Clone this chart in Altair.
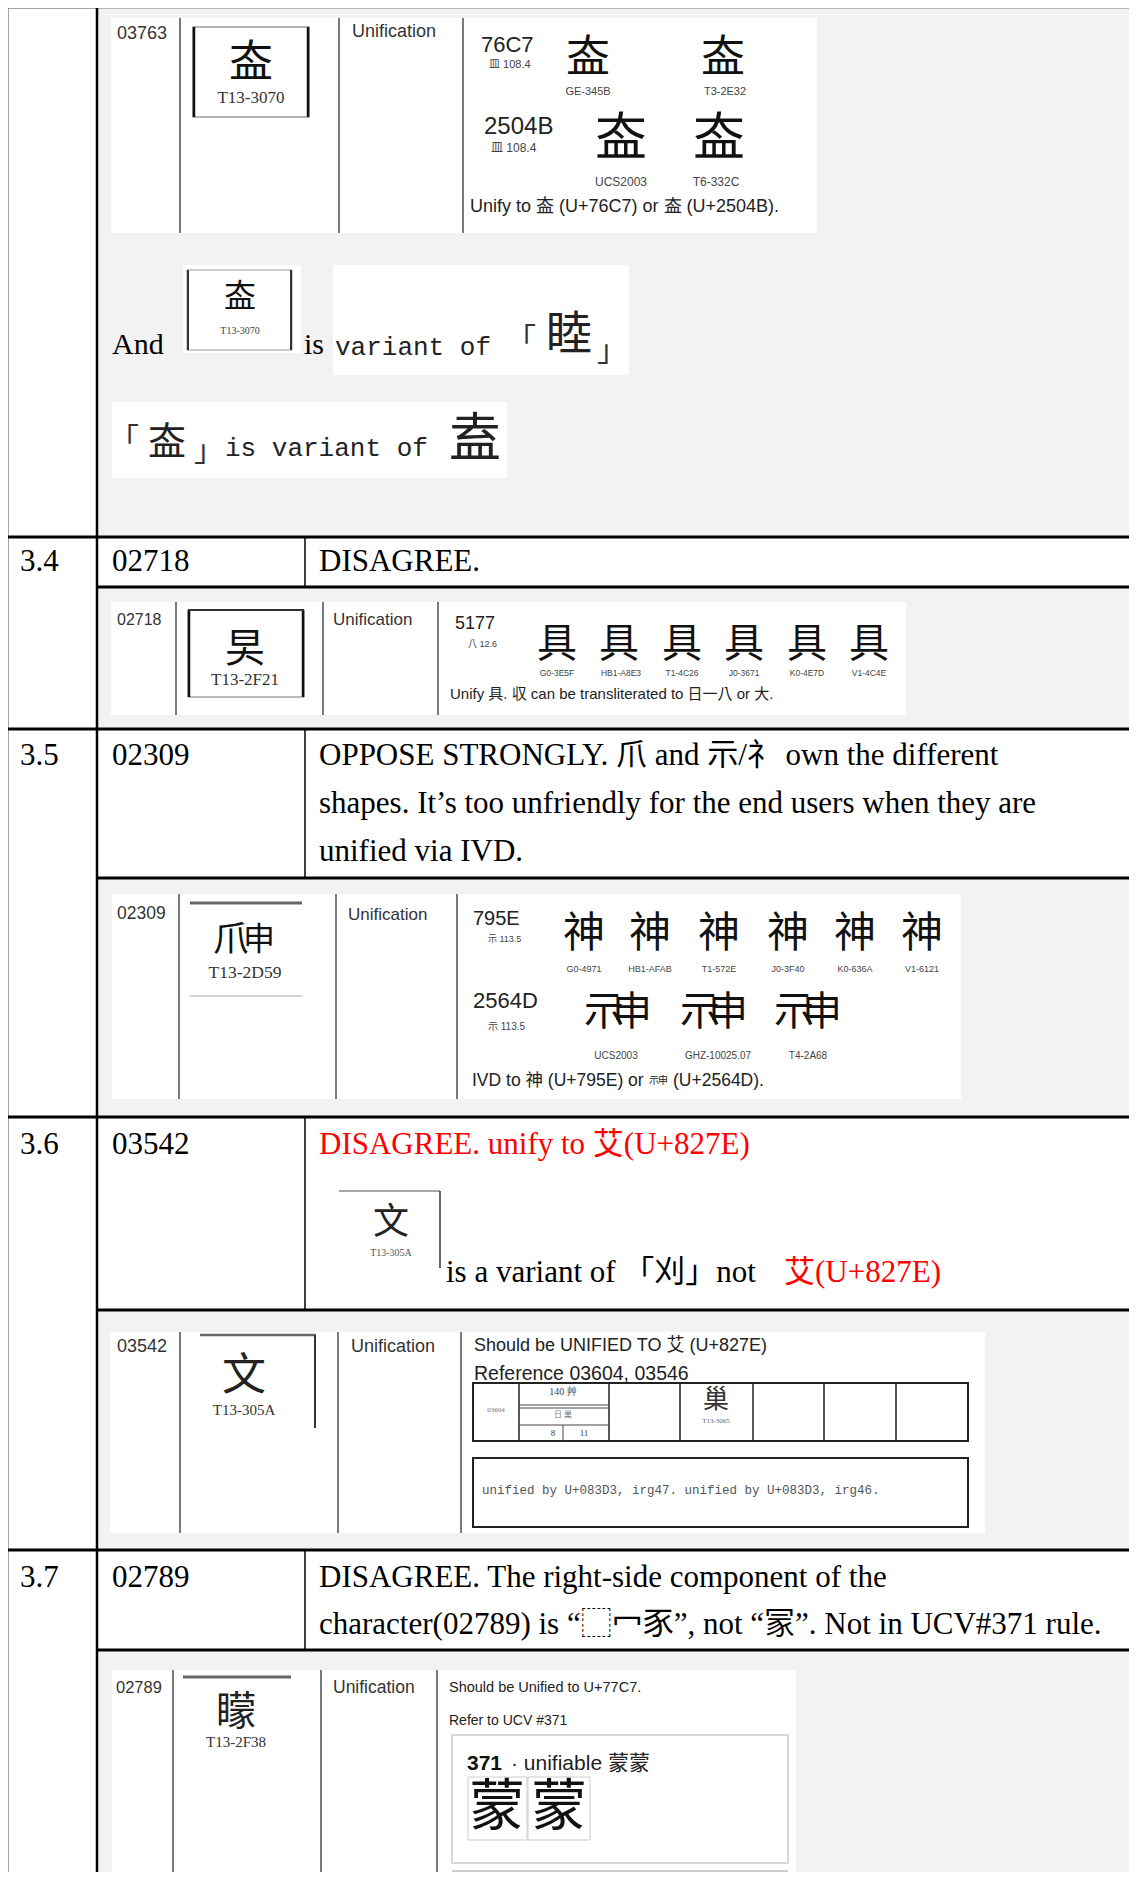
import altair as alt
import pandas as pd

# ---------------- page frame (reference pixel coordinates) ----------------
X0, X1 = 8, 1129
Y0, Y1 = 8, 1872
W, H = X1 - X0, Y1 - Y0

GREY = "#f2f2f2"
RED = "#ff0000"

# filled backgrounds: x1, y1, x2, y2, fill
BACKGROUNDS = [
    (97, 7, 1137, 1883, GREY),
    (97, 537, 1137, 587, "#ffffff"),
    (97, 729, 1137, 878, "#ffffff"),
    (97, 1117, 1137, 1310, "#ffffff"),
    (97, 1550, 1137, 1650, "#ffffff"),
    # pasted white picture boxes
    (111, 18, 817, 233, "#ffffff"),
    (183, 265, 301, 353, "#ffffff"),
    (333, 265, 629, 375, "#ffffff"),
    (112, 402, 507, 478, "#ffffff"),
    (111, 602, 906, 715, "#ffffff"),
    (112, 894, 961, 1099, "#ffffff"),
    (110, 1332, 985, 1533, "#ffffff"),
    (112, 1670, 796, 1872, "#ffffff"),
]

# outlined boxes: x1, y1, x2, y2, stroke, stroke width
OUTLINES = [
    (193, 27, 309, 117, "#666666", 1.2),
    (187, 270, 292, 350, "#999999", 1.0),
    (188, 610, 304, 697, "#777777", 1.0),
    (473, 1383, 968, 1441, "#222222", 2.0),
    (473, 1458, 968, 1527, "#222222", 2.0),
    (452, 1735, 788, 1863, "#cccccc", 1.5),
    (468, 1777, 527, 1840, "#cccccc", 1.0),
    (528, 1777, 590, 1840, "#cccccc", 1.0),
]

# lines: x1, y1, x2, y2, stroke width, colour
LINES = [
    # table frame
    (7, 7, 1137, 7, 2.5, "#000000"),
    (7, 7, 7, 1883, 2.5, "#000000"),
    (97, 7, 97, 1883, 2.5, "#000000"),
    (7, 537, 1137, 537, 2.8, "#000000"),
    (97, 587, 1137, 587, 2.8, "#000000"),
    (7, 729, 1137, 729, 2.8, "#000000"),
    (97, 878, 1137, 878, 2.8, "#000000"),
    (7, 1117, 1137, 1117, 2.8, "#000000"),
    (97, 1310, 1137, 1310, 2.8, "#000000"),
    (7, 1550, 1137, 1550, 2.8, "#000000"),
    (97, 1650, 1137, 1650, 2.8, "#000000"),
    (305, 537, 305, 587, 1.5, "#000000"),
    (305, 729, 305, 878, 1.5, "#000000"),
    (305, 1117, 305, 1310, 1.5, "#000000"),
    (305, 1550, 305, 1650, 1.5, "#000000"),
    # column separators inside the pasted pictures
    (180, 18, 180, 233, 1.3, "#333333"),
    (339, 18, 339, 233, 1.3, "#333333"),
    (463, 18, 463, 233, 1.3, "#333333"),
    (176, 602, 176, 715, 1.3, "#333333"),
    (323, 602, 323, 715, 1.3, "#333333"),
    (438, 602, 438, 715, 1.3, "#333333"),
    (179, 894, 179, 1099, 1.3, "#333333"),
    (336, 894, 336, 1099, 1.3, "#333333"),
    (457, 894, 457, 1099, 1.3, "#333333"),
    (180, 1332, 180, 1533, 1.3, "#333333"),
    (338, 1332, 338, 1533, 1.3, "#333333"),
    (461, 1332, 461, 1533, 1.3, "#333333"),
    (173, 1670, 173, 1872, 1.3, "#333333"),
    (321, 1670, 321, 1872, 1.3, "#333333"),
    (437, 1670, 437, 1872, 1.3, "#333333"),
    # glyph frames
    (194, 27, 194, 117, 2.5, "#111111"),
    (308, 27, 308, 117, 2.5, "#111111"),
    (188, 270, 188, 350, 2.0, "#333333"),
    (291, 270, 291, 350, 2.0, "#333333"),
    (189, 610, 189, 697, 2.5, "#111111"),
    (303, 610, 303, 697, 2.5, "#111111"),
    (188, 610, 304, 610, 2.0, "#333333"),
    (190, 903, 302, 903, 3.0, "#666666"),
    (190, 996, 302, 996, 1.0, "#aaaaaa"),
    (339, 1191, 440, 1191, 1.5, "#888888"),
    (440, 1191, 440, 1268, 1.5, "#333333"),
    (200, 1335, 316, 1335, 2.5, "#666666"),
    (315, 1335, 315, 1428, 2.0, "#333333"),
    (183, 1677, 291, 1677, 3.0, "#666666"),
    # small reference table (03604)
    (519, 1383, 519, 1441, 1.5, "#222222"),
    (609, 1383, 609, 1441, 1.5, "#222222"),
    (680, 1383, 680, 1441, 1.5, "#222222"),
    (753, 1383, 753, 1441, 1.5, "#222222"),
    (824, 1383, 824, 1441, 1.5, "#222222"),
    (896, 1383, 896, 1441, 1.5, "#222222"),
    (519, 1405, 609, 1405, 1.0, "#444444"),
    (519, 1408, 609, 1408, 1.0, "#444444"),
    (519, 1425, 609, 1425, 1.0, "#444444"),
    (563, 1425, 563, 1441, 1.0, "#444444"),
    (452, 1871, 788, 1871, 2.0, "#cccccc"),
]

# ---------------- texts: x, y, text, font size, colour ----------------
BODY = [
    (20, 562, "3.4", 31, "#000000"),
    (112, 562, "02718", 31, "#000000"),
    (319, 562, "DISAGREE.", 31, "#000000"),
    (20, 756, "3.5", 31, "#000000"),
    (112, 756, "02309", 31, "#000000"),
    (319, 756, "OPPOSE STRONGLY.  爪  and  示/礻  own the different", 31, "#000000"),
    (319, 804, "shapes. It’s too unfriendly for the end users when they are", 31, "#000000"),
    (319, 852, "unified via IVD.", 31, "#000000"),
    (20, 1145, "3.6", 31, "#000000"),
    (112, 1145, "03542", 31, "#000000"),
    (319, 1145, "DISAGREE. unify to  艾(U+827E)", 31, RED),
    (446, 1273, "is a variant of 「刈」not", 31, "#000000"),
    (784, 1273, "艾(U+827E)", 31, RED),
    (20, 1578, "3.7", 31, "#000000"),
    (112, 1578, "02789", 31, "#000000"),
    (319, 1578, "DISAGREE. The right-side component of the", 31, "#000000"),
    (319, 1625, "character(02789) is “⬚冖豕”, not “冡”. Not in UCV#371 rule.", 31, "#000000"),
    (112, 345, "And", 30, "#000000"),
    (304, 345, "is", 30, "#000000"),
]

MONO = [
    (335, 347, "variant of", 26, "#222222"),
    (225, 448, "is variant of", 26, "#222222"),
    (482, 1490, "unified by U+083D3, irg47. unified by U+083D3, irg46.", 12.5, "#555555"),
]

GLYPHS = [
    (251, 64, "盇", 44, "#111111"),
    (588, 59, "盇", 44, "#111111"),
    (723, 59, "盇", 44, "#111111"),
    (621, 139, "𥁋", 52, "#111111"),
    (719, 139, "𥁋", 52, "#111111"),
    (240, 297, "盇", 32, "#111111"),
    (521, 340, "「", 30, "#333333"),
    (569, 335, "睦", 46, "#222222"),
    (612, 352, "」", 30, "#333333"),
    (124, 440, "「", 30, "#333333"),
    (167, 443, "盇", 38, "#222222"),
    (209, 452, "」", 30, "#333333"),
    (475, 440, "盍", 52, "#222222"),
    (245, 650, "旲", 40, "#111111"),
    (557, 645, "具", 40, "#111111"),
    (619, 645, "具", 40, "#111111"),
    (682, 645, "具", 40, "#111111"),
    (744, 645, "具", 40, "#111111"),
    (807, 645, "具", 40, "#111111"),
    (869, 645, "具", 40, "#111111"),
    # T13-2D59: 爪 beside 申
    (231, 940, "爪", 36, "#111111"),
    (259, 940, "申", 32, "#111111"),
    (584, 934, "神", 42, "#111111"),
    (650, 934, "神", 42, "#111111"),
    (719, 934, "神", 42, "#111111"),
    (788, 934, "神", 42, "#111111"),
    (855, 934, "神", 42, "#111111"),
    (922, 934, "神", 42, "#111111"),
    # U+2564D drawn as 示 beside 申
    (604, 1013, "示", 40, "#111111"),
    (632, 1013, "申", 40, "#111111"),
    (700, 1013, "示", 40, "#111111"),
    (728, 1013, "申", 40, "#111111"),
    (794, 1013, "示", 40, "#111111"),
    (822, 1013, "申", 40, "#111111"),
    (654, 1081, "示", 10, "#222222"),
    (663, 1081, "申", 10, "#222222"),
    (391, 1223, "文", 36, "#222222"),
    (244, 1377, "文", 44, "#222222"),
    (716, 1400, "巢", 26, "#333333"),
    (236, 1713, "矇", 40, "#222222"),
    (497, 1808, "蒙", 56, "#111111"),
    (559, 1808, "蒙", 56, "#111111"),
]

SANS = [
    (117, 34, "03763", 18, "#333333"),
    (352, 32, "Unification", 18, "#333333"),
    (481, 45, "76C7", 22, "#222222"),
    (489, 65, "皿 108.4", 11, "#444444"),
    (484, 127, "2504B", 24, "#222222"),
    (491, 148, "皿 108.4", 12, "#444444"),
    (470, 207, "Unify to 盇 (U+76C7) or 𥁋 (U+2504B).", 18, "#222222"),
    (117, 620, "02718", 16, "#333333"),
    (333, 620, "Unification", 17, "#333333"),
    (455, 624, "5177", 18, "#222222"),
    (468, 644, "八 12.6", 9, "#444444"),
    (450, 694, "Unify 具. 収 can be transliterated to 日一八 or 大.", 15, "#222222"),
    (117, 914, "02309", 17.5, "#333333"),
    (348, 915, "Unification", 17, "#333333"),
    (473, 919, "795E", 20, "#222222"),
    (488, 939, "示 113.5", 9, "#444444"),
    (473, 1001, "2564D", 22, "#222222"),
    (488, 1027, "示 113.5", 10, "#444444"),
    (472, 1081, "IVD to 神 (U+795E) or", 17.5, "#222222"),
    (673, 1081, "(U+2564D).", 17.5, "#222222"),
    (117, 1347, "03542", 18, "#333333"),
    (351, 1347, "Unification", 18, "#333333"),
    (474, 1346, "Should be UNIFIED TO 艾 (U+827E)", 18, "#222222"),
    (474, 1374, "Reference 03604, 03546", 19.5, "#222222"),
    (116, 1688, "02789", 16.5, "#333333"),
    (333, 1688, "Unification", 17.5, "#333333"),
    (449, 1688, "Should be Unified to U+77C7.", 14.5, "#222222"),
    (449, 1721, "Refer to UCV #371", 14, "#222222"),
    (511, 1764, "· unifiable 蒙蒙", 21, "#222222"),
]

SANS_BOLD = [
    (467, 1764, "371", 21, "#111111"),
]

LABELS = [
    (588, 92, "GE-345B", 11, "#444444"),
    (725, 92, "T3-2E32", 11, "#444444"),
    (621, 182, "UCS2003", 12, "#444444"),
    (716, 182, "T6-332C", 12, "#444444"),
    (557, 673, "G0-3E5F", 8.5, "#444444"),
    (621, 673, "HB1-A8E3", 8.5, "#444444"),
    (682, 673, "T1-4C26", 8.5, "#444444"),
    (744, 673, "J0-3671", 8.5, "#444444"),
    (807, 673, "K0-4E7D", 8.5, "#444444"),
    (869, 673, "V1-4C4E", 8.5, "#444444"),
    (584, 969, "G0-4971", 9, "#444444"),
    (650, 969, "HB1-AFAB", 9, "#444444"),
    (719, 969, "T1-572E", 9, "#444444"),
    (788, 969, "J0-3F40", 9, "#444444"),
    (855, 969, "K0-636A", 9, "#444444"),
    (922, 969, "V1-6121", 9, "#444444"),
    (616, 1056, "UCS2003", 10, "#444444"),
    (718, 1056, "GHZ-10025.07", 10, "#444444"),
    (808, 1056, "T4-2A68", 10, "#444444"),
]

SERIF_SMALL = [
    (251, 98, "T13-3070", 17, "#333333"),
    (240, 331, "T13-3070", 10, "#444444"),
    (245, 680, "T13-2F21", 17, "#333333"),
    (245, 973, "T13-2D59", 17.5, "#333333"),
    (391, 1253, "T13-305A", 10, "#555555"),
    (244, 1410, "T13-305A", 15, "#333333"),
    (496, 1410, "03604", 7, "#777777"),
    (563, 1392, "140 艸", 10, "#444444"),
    (563, 1415, "日 巢", 8, "#777777"),
    (553, 1433, "8", 9, "#444444"),
    (584, 1433, "11", 9, "#444444"),
    (716, 1421, "T13-3065", 7, "#666666"),
    (236, 1742, "T13-2F38", 15, "#333333"),
]

# ---------------- chart ----------------
XS = alt.Scale(domain=[X0, X1], nice=False, zero=False)
YS = alt.Scale(domain=[Y0, Y1], nice=False, zero=False, reverse=True)

CJK = "Noto Sans CJK TC"
F_SERIF = f"Liberation Serif, {CJK}"
F_SANS = f"Liberation Sans, {CJK}"
F_MONO = f"Liberation Mono, {CJK}"


def pos(a, b):
    return dict(
        x=alt.X(f"{a}:Q", scale=XS, axis=None),
        y=alt.Y(f"{b}:Q", scale=YS, axis=None),
    )


bg_df = pd.DataFrame(BACKGROUNDS, columns=["x1", "y1", "x2", "y2", "f"])
bg = alt.Chart(bg_df).mark_rect(strokeWidth=0).encode(
    **pos("x1", "y1"), x2="x2:Q", y2="y2:Q",
    fill=alt.Fill("f:N", scale=None),
)

ol_df = pd.DataFrame(OUTLINES, columns=["x1", "y1", "x2", "y2", "s", "w"])
ol = alt.Chart(ol_df).mark_rect(fill="transparent").encode(
    **pos("x1", "y1"), x2="x2:Q", y2="y2:Q",
    stroke=alt.Stroke("s:N", scale=None),
    strokeWidth=alt.StrokeWidth("w:Q", scale=None),
)

ln_df = pd.DataFrame(LINES, columns=["x1", "y1", "x2", "y2", "w", "c"])
ln = alt.Chart(ln_df).mark_rule().encode(
    **pos("x1", "y1"), x2="x2:Q", y2="y2:Q",
    color=alt.Color("c:N", scale=None),
    strokeWidth=alt.StrokeWidth("w:Q", scale=None),
)


def text_layer(rows, font, align="left", weight="normal"):
    df = pd.DataFrame(rows, columns=["x", "y", "t", "s", "c"])
    return alt.Chart(df).mark_text(
        font=font, align=align, baseline="middle", fontWeight=weight
    ).encode(
        **pos("x", "y"),
        text="t:N",
        size=alt.Size("s:Q", scale=None),
        color=alt.Color("c:N", scale=None),
    )


chart = alt.layer(
    bg, ol, ln,
    text_layer(BODY, F_SERIF),
    text_layer(MONO, F_MONO),
    text_layer(GLYPHS, CJK, align="center"),
    text_layer(SANS, F_SANS),
    text_layer(SANS_BOLD, F_SANS, weight="bold"),
    text_layer(LABELS, F_SANS, align="center"),
    text_layer(SERIF_SMALL, F_SERIF, align="center"),
).properties(
    width=W, height=H, padding=0,
    autosize=alt.AutoSizeParams(type="none"),
).configure_view(stroke=None).configure(background="#ffffff")

chart.save("out.html", embed_options={"renderer": "svg", "actions": False})
